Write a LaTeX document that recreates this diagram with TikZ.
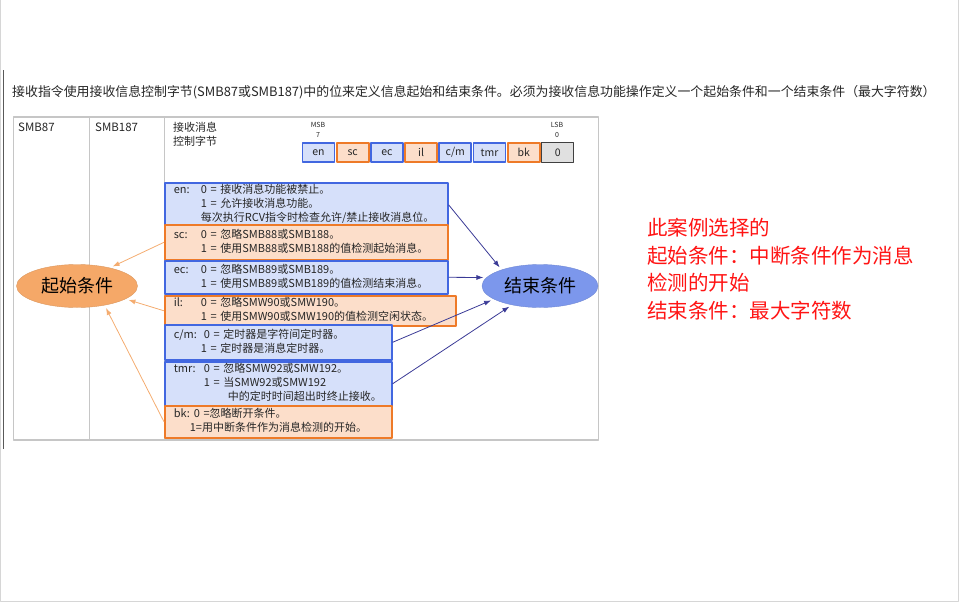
\documentclass[tikz,border=0pt]{standalone}
\usepackage{fontspec}
\setmainfont{Noto Sans CJK SC}
\usetikzlibrary{shapes.geometric,arrows.meta}
\definecolor{bitblue}{RGB}{66,103,224}
\definecolor{fillblue}{RGB}{214,224,250}
\definecolor{bitorange}{RGB}{238,122,40}
\definecolor{fillorange}{RGB}{252,222,202}
\definecolor{tablegray}{RGB}{198,198,198}
\definecolor{framegray}{RGB}{214,214,214}
\definecolor{startfill}{RGB}{245,168,104}
\definecolor{endfill}{RGB}{124,151,236}
\definecolor{startline}{RGB}{244,172,112}
\definecolor{endline}{RGB}{58,58,150}
\definecolor{notered}{RGB}{255,20,20}
\newcommand\desc[2]{\noindent\begin{tabular}{@{}p{#1}@{}l@{}}#2\end{tabular}}
\begin{document}
\begin{tikzpicture}[x=1pt, y=-1pt, line join=round,
  every node/.style={text=black!85, font=\fontsize{11}{14}\selectfont},
  bitcell/.style={minimum width=32pt, minimum height=19.5pt, inner sep=0pt, line width=1.8pt, font=\fontsize{10.5}{12}\selectfont},
  bluebit/.style={bitcell, draw=bitblue, fill=fillblue},
  orangebit/.style={bitcell, draw=bitorange, fill=fillorange},
  graybit/.style={bitcell, draw=black!75, fill=black!12, line width=1pt},
  descbox/.style={anchor=north west, line width=1.6pt, inner xsep=9pt, inner ysep=1pt, align=left},
  bluedesc/.style={descbox, draw=bitblue, fill=fillblue},
  orangedesc/.style={descbox, draw=bitorange, fill=fillorange},
  cond/.style={ellipse, inner sep=0pt, minimum height=43pt, text=black, font=\fontsize{18}{20}\selectfont},
  tostart/.style={draw=startline, line width=0.8pt, shorten >=3pt, -{Latex[length=7pt,width=5pt]}},
  toend/.style={draw=endline, line width=0.8pt, shorten >=3pt, -{Latex[length=7pt,width=5pt]}}]
  \useasboundingbox (0,0) rectangle (960,602);
  \draw[framegray] (0.5,0) -- (0.5,601.5) -- (958.5,601.5) -- (958.5,0);
  \draw[black!65, line width=1pt] (3.5,70) -- (3.5,449);
  \node[anchor=west, inner sep=0pt, font=\fontsize{12.9}{15}\selectfont] (intro) at (12,92) {接收指令使用接收信息控制字节(SMB87或SMB187)中的位来定义信息起始和结束条件。必须为接收信息功能操作定义一个起始条件和一个结束条件（最大字符数）};
  \draw[tablegray, line width=1.5pt] (13.5,117) rectangle (598.5,440) (89.5,117) -- (89.5,440) (164.5,117) -- (164.5,440);
  \node[anchor=west, inner sep=0pt, font=\fontsize{11.5}{13}\selectfont] (smb87) at (18,127) {SMB87};
  \node[anchor=west, inner sep=0pt, font=\fontsize{11.5}{13}\selectfont] (smb187) at (95,127) {SMB187};
  \node[anchor=north west, inner sep=0pt, align=left] (ctrl) at (173,122) {接收消息\\控制字节};
  \node[align=center, inner sep=0pt, font=\fontsize{7}{9.5}\selectfont] (msb) at (318,130) {MSB\\7};
  \node[align=center, inner sep=0pt, font=\fontsize{7}{9.5}\selectfont] (lsb) at (557,130) {LSB\\0};
  \foreach \lbl/\kind [count=\i from 0] in {en/bluebit,sc/orangebit,ec/bluebit,il/orangebit,{c/m}/bluebit,tmr/bluebit,bk/orangebit,0/graybit}
    \node[\kind] (bit\i) at (318.5+34.2*\i,152.5) {\lbl};
  \node[bluedesc, minimum width=283pt, minimum height=41pt, text width=265pt] (en) at (164,182) {\desc{27pt}{en:&0 = 接收消息功能被禁止。\\&1 = 允许接收消息功能。\\&每次执行RCV指令时检查允许/禁止接收消息位。}};
  \node[orangedesc, minimum width=283pt, minimum height=35pt, text width=265pt] (sc) at (164,224) {\desc{27pt}{sc:&0 = 忽略SMB88或SMB188。\\&1 = 使用SMB88或SMB188的值检测起始消息。}};
  \node[bluedesc, minimum width=283pt, minimum height=33pt, text width=265pt] (ec) at (164,260) {\desc{27pt}{ec:&0 = 忽略SMB89或SMB189。\\&1 = 使用SMB89或SMB189的值检测结束消息。}};
  \node[orangedesc, minimum width=291pt, minimum height=28pt, text width=273pt] (il) at (164,295) {\desc{27pt}{il:&0 = 忽略SMW90或SMW190。\\&1 = 使用SMW90或SMW190的值检测空闲状态。}};
  \node[bluedesc, minimum width=227pt, minimum height=35pt, text width=209pt] (cm) at (164,324) {\desc{30pt}{c/m:&0 = 定时器是字符间定时器。\\&\hspace{-3pt}1 = 定时器是消息定时器。}};
  \node[bluedesc, minimum width=227pt, minimum height=42pt, text width=209pt] (tmr) at (164,361) {\desc{30pt}{tmr:&0 = 忽略SMW92或SMW192。\\&1 = 当SMW92或SMW192\\&\hspace{24pt}中的定时时间超出时终止接收。}};
  \node[orangedesc, minimum width=227pt, minimum height=32pt, text width=209pt] (bk) at (164,405) {\desc{20pt}{bk:&0 =忽略断开条件。\\&\hspace{-4pt}1=用中断条件作为消息检测的开始。}};
  \node[cond, fill=startfill, draw=startfill!90!black, minimum width=121pt] (startc) at (77,286) {起始条件};
  \node[cond, fill=endfill, draw=endfill!90!black, minimum width=116pt] (endc) at (540,286) {结束条件};
  \draw[tostart] (sc.west) -- (startc.29); \draw[tostart] (il.west) -- (startc.-15); \draw[tostart] (bk.west) -- (startc.-35);
  \draw[toend] (en.east) -- (endc.157); \draw[toend] (ec.east) -- (endc.171);
  \draw[toend] (cm.east) -- (endc.196); \draw[toend] (tmr.east) -- (endc.214);
  \node[anchor=north west, inner sep=0pt, align=left, text=notered, font=\fontsize{20.5}{27.5}\selectfont] (note) at (647,218) {此案例选择的\\起始条件：中断条件作为消息\\检测的开始\\结束条件：最大字符数};
\end{tikzpicture}
\end{document}
